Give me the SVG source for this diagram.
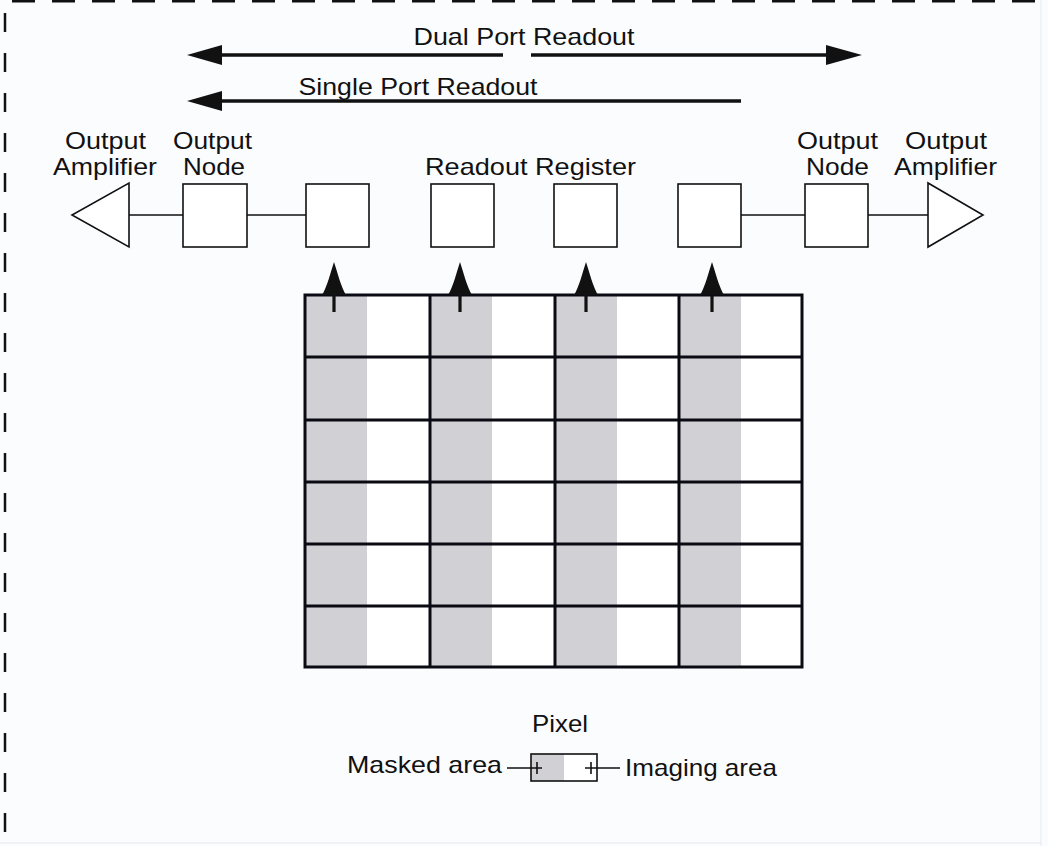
<svg xmlns="http://www.w3.org/2000/svg" width="1048" height="846" viewBox="0 0 1048 846">
<style>
text{font-family:"Liberation Sans",Arial,sans-serif;fill:#111;}
.lbl{font-size:24px;}
.top{font-size:24px;}
.box{fill:#fff;stroke:#111;stroke-width:1.6;}
.wire{stroke:#111;stroke-width:1.6;fill:none;}
.grid{stroke:#0a0a12;stroke-width:3;fill:none;}
.mask{fill:#d1d1d5;}
.bigarrow{stroke:#111;stroke-width:3.5;fill:none;}
.head{fill:#111;}
</style>
<defs>
<path id="uparrow" d="M0,-33 C3,-24 7,-8 12,0 L1.6,0 L1.6,17 L-1.6,17 L-1.6,0 L-12,0 C-7,-8 -3,-24 0,-33 Z"/>
</defs>
<rect x="0" y="0" width="1048" height="846" fill="#fbfcfe"/>
<line x1="1041" y1="0" x2="1041" y2="846" stroke="#e6e8ee" stroke-width="1"/>
<line x1="0" y1="843" x2="1041" y2="843" stroke="#e6e8ee" stroke-width="1"/>
<line x1="12" y1="1" x2="1048" y2="1" stroke="#111" stroke-width="3" stroke-dasharray="23 17"/>
<line x1="5" y1="13" x2="5" y2="846" stroke="#111" stroke-width="2.5" stroke-dasharray="19 21"/>

<g id="dual-port-readout">
<text class="top" x="524" y="45" text-anchor="middle" textLength="221" lengthAdjust="spacingAndGlyphs">Dual Port Readout</text>
<line class="bigarrow" x1="215" y1="55" x2="503" y2="55"/>
<line class="bigarrow" x1="531" y1="55" x2="830" y2="55"/>
<polygon class="head" points="187,55 222,45 222,65"/>
<polygon class="head" points="862,55 826,45 826,65"/>
</g>
<g id="single-port-readout">
<text class="top" x="418" y="95" text-anchor="middle" textLength="239" lengthAdjust="spacingAndGlyphs">Single Port Readout</text>
<line class="bigarrow" x1="215" y1="101" x2="741" y2="101"/>
<polygon class="head" points="187,101 222,91 222,111"/>
</g>

<g id="connectors">
<line class="wire" x1="129" y1="215" x2="183" y2="215"/>
<line class="wire" x1="247" y1="215" x2="306" y2="215"/>
<line class="wire" x1="741" y1="215" x2="805" y2="215"/>
<line class="wire" x1="868" y1="215" x2="928" y2="215"/>
</g>

<g id="left-output-amplifier">
<polygon class="box" points="129,183 129,247 72,215"/>
<text class="lbl" x="65" y="149" textLength="81" lengthAdjust="spacingAndGlyphs">Output</text>
<text class="lbl" x="53" y="175" textLength="104" lengthAdjust="spacingAndGlyphs">Amplifier</text>
</g>
<g id="left-output-node">
<rect class="box" x="183" y="184" width="64" height="63"/>
<text class="lbl" x="173" y="149" textLength="79" lengthAdjust="spacingAndGlyphs">Output</text>
<text class="lbl" x="183" y="175" textLength="62" lengthAdjust="spacingAndGlyphs">Node</text>
</g>
<g id="readout-register">
<text class="lbl" x="425" y="175" textLength="211" lengthAdjust="spacingAndGlyphs">Readout Register</text>
<rect class="box" x="306" y="184" width="63" height="63"/>
<rect class="box" x="431" y="184" width="63" height="63"/>
<rect class="box" x="554" y="184" width="63" height="63"/>
<rect class="box" x="678" y="184" width="63" height="63"/>
</g>
<g id="right-output-node">
<rect class="box" x="805" y="184" width="63" height="63"/>
<text class="lbl" x="797" y="149" textLength="81" lengthAdjust="spacingAndGlyphs">Output</text>
<text class="lbl" x="806" y="175" textLength="63" lengthAdjust="spacingAndGlyphs">Node</text>
</g>
<g id="right-output-amplifier">
<polygon class="box" points="928,183 928,247 983,215"/>
<text class="lbl" x="905" y="149" textLength="82" lengthAdjust="spacingAndGlyphs">Output</text>
<text class="lbl" x="894" y="175" textLength="103" lengthAdjust="spacingAndGlyphs">Amplifier</text>
</g>

<g id="pixel-array">
<rect x="305" y="295" width="497" height="372" fill="#fff"/>
<rect class="mask" x="306" y="296" width="61" height="370"/>
<rect class="mask" x="431" y="296" width="61" height="370"/>
<rect class="mask" x="556" y="296" width="61" height="370"/>
<rect class="mask" x="680" y="296" width="61" height="370"/>
<rect class="grid" x="305" y="295" width="497" height="372"/>
<line class="grid" x1="430" y1="295" x2="430" y2="667"/>
<line class="grid" x1="555" y1="295" x2="555" y2="667"/>
<line class="grid" x1="679" y1="295" x2="679" y2="667"/>
<line class="grid" x1="305" y1="357" x2="802" y2="357"/>
<line class="grid" x1="305" y1="420" x2="802" y2="420"/>
<line class="grid" x1="305" y1="482" x2="802" y2="482"/>
<line class="grid" x1="305" y1="544" x2="802" y2="544"/>
<line class="grid" x1="305" y1="606" x2="802" y2="606"/>
</g>

<g id="transfer-arrows" class="head">
<use href="#uparrow" x="334" y="295"/>
<use href="#uparrow" x="460" y="295"/>
<use href="#uparrow" x="586" y="295"/>
<use href="#uparrow" x="712" y="295"/>
</g>

<g id="pixel-legend">
<text class="lbl" x="532" y="732" textLength="56" lengthAdjust="spacingAndGlyphs">Pixel</text>
<text class="lbl" x="347" y="773" textLength="155" lengthAdjust="spacingAndGlyphs">Masked area</text>
<text class="lbl" x="625" y="776" textLength="152" lengthAdjust="spacingAndGlyphs">Imaging area</text>
<rect x="531" y="754" width="66" height="27" fill="#fff"/>
<rect class="mask" x="531" y="754" width="33" height="27"/>
<rect x="531" y="754" width="66" height="27" fill="none" stroke="#111" stroke-width="1.6"/>
<line class="wire" x1="507" y1="768" x2="542" y2="768"/>
<line class="wire" x1="537" y1="762" x2="537" y2="774"/>
<line class="wire" x1="585" y1="768" x2="620" y2="768"/>
<line class="wire" x1="591" y1="762" x2="591" y2="774"/>
</g>
</svg>
